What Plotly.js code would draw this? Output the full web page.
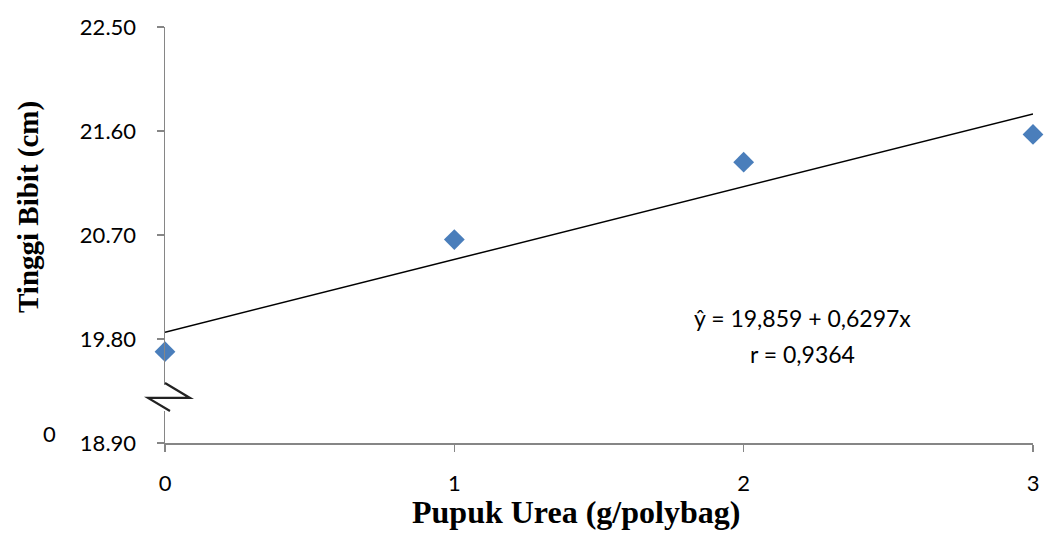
<!DOCTYPE html>
<html>
<head>
<meta charset="utf-8">
<script src="https://cdn.plot.ly/plotly-3.0.1.min.js"></script>
<style>html,body{margin:0;padding:0;background:#fff;}#chart{width:1046px;height:533px;}</style>
</head>
<body>
<div id="chart"></div>
<script>
// Data
const dosis = [0, 1, 2, 3];                       // Pupuk Urea (g/polybag)
const tinggi = [19.69, 20.66, 21.33, 21.57];       // Tinggi Bibit (cm)
const intercept = 19.859;
const slope = 0.6297;
const eqText = "\u0177 = 19,859 + 0,6297x";
const rText = "r = 0,9364";
const yTicks = [18.90, 19.80, 20.70, 21.60, 22.50];
const yTickText = ["18.90", "19.80", "20.70", "21.60", "22.50"];
const xTicks = [0, 1, 2, 3];
const xTickText = ["0", "1", "2", "3"];
const breakLabel = "0";
const breakY = 19.29;
const xTitle = "Pupuk Urea (g/polybag)";
const yTitle = "Tinggi Bibit (cm)";

const yMin = 18.90, yMax = 22.50;
const trendX = [dosis[0], dosis[dosis.length - 1]];
const trendY = trendX.map(x => intercept + slope * x);

const axisColor = '#868686';
const sans = 'Lato, "Open Sans", sans-serif';
const serif = '"Liberation Serif", "Times New Roman", serif';
const tickFont = {family: sans, size: 22, color: '#000'};

const traces = [
  {
    x: trendX, y: trendY, type: 'scatter', mode: 'lines',
    line: {color: '#000', width: 1.5}, hoverinfo: 'skip', cliponaxis: false
  },
  {
    x: dosis, y: tinggi, type: 'scatter', mode: 'markers',
    marker: {symbol: 'diamond', size: 16, color: '#4A7EBB'}, cliponaxis: false
  }
];

const breakPaperY = (breakY - yMin) / (yMax - yMin);

const layout = {
  width: 1046, height: 533,
  margin: {l: 165, r: 13, t: 27, b: 90},
  paper_bgcolor: '#fff', plot_bgcolor: '#fff',
  showlegend: false,
  xaxis: {
    range: [0, 3], tickvals: xTicks, ticktext: xTickText,
    showgrid: false, zeroline: false, showline: true, linecolor: axisColor, linewidth: 1.5,
    ticks: 'outside', ticklen: 7, tickcolor: axisColor, tickwidth: 1.5,
    tickfont: tickFont, ticklabelstandoff: 13
  },
  yaxis: {
    range: [yMin, yMax], tickvals: yTicks, ticktext: yTickText,
    showgrid: false, zeroline: false, showline: true, linecolor: axisColor, linewidth: 1.5,
    ticks: 'outside', ticklen: 7, tickcolor: axisColor, tickwidth: 1.5,
    tickfont: tickFont, ticklabelstandoff: 16
  },
  shapes: [
    {
      type: 'rect', xref: 'paper', yref: 'paper', xsizemode: 'pixel', ysizemode: 'pixel',
      xanchor: 0, yanchor: breakPaperY, x0: -17, x1: 42, y0: -13, y1: 13,
      fillcolor: '#fff', line: {width: 0}, layer: 'above'
    },
    {
      type: 'path', xref: 'paper', yref: 'paper', xsizemode: 'pixel', ysizemode: 'pixel',
      xanchor: 0, yanchor: breakPaperY,
      path: 'M 0,15 L 25,0 L -17,0 L 5,-13',
      line: {color: '#222', width: 2.2}, layer: 'above'
    }
  ],
  annotations: [
    {
      text: eqText, xref: 'x', yref: 'y', x: 2.205, y: 19.982, showarrow: false,
      font: {family: sans, size: 23, color: '#000'}
    },
    {
      text: rText, xref: 'x', yref: 'y', x: 2.205, y: 19.67, showarrow: false,
      font: {family: sans, size: 23, color: '#000'}
    },
    {
      text: breakLabel, xref: 'paper', yref: 'y', x: -0.1325, y: yMin, yshift: 10,
      xanchor: 'center', showarrow: false, font: tickFont
    },
    {
      text: yTitle, xref: 'paper', yref: 'paper', x: -0.158, y: 0.567, textangle: -90,
      xanchor: 'center', yanchor: 'middle',
      showarrow: false, font: {family: serif, size: 29, color: '#000', weight: 'bold'}
    },
    {
      text: xTitle, xref: 'paper', yref: 'paper', x: 0.4735, y: -0.166,
      xanchor: 'center', yanchor: 'middle',
      showarrow: false, font: {family: serif, size: 32, color: '#000', weight: 'bold'}
    }
  ]
};

Plotly.newPlot('chart', traces, layout, {displayModeBar: false, staticPlot: true});
</script>
</body>
</html>
